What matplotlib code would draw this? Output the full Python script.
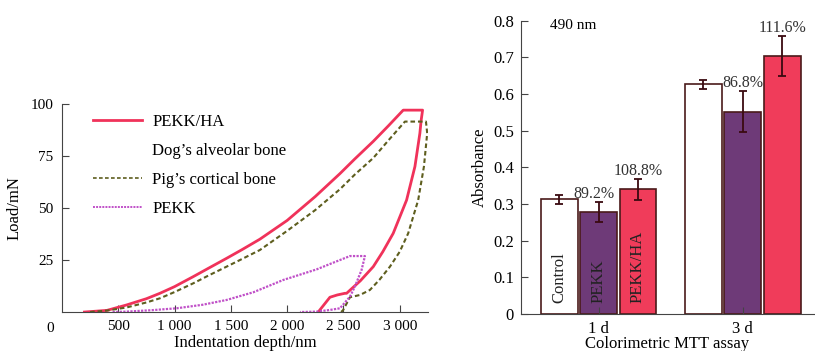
import numpy as np
import matplotlib.pyplot as plt
from matplotlib.lines import Line2D

plt.rcParams['font.family'] = ['Liberation Serif', 'DejaVu Serif']
plt.rcParams['font.size'] = 11

# Кривые наноиндентирования (нагрузка - разгрузка)
pekk_ha_depth = [200, 400, 574, 750, 870, 1000, 1166, 1300, 1462, 1600, 1758, 2000, 2250, 2469,
                 2600, 2765, 2900, 3031, 3203,
                 3190, 3179, 3135, 3061, 2942, 2850, 2765, 2650, 2528, 2513, 2445, 2380, 2276]
pekk_ha_load = [0, 0.8, 3.4, 6.4, 9.0, 12.2, 17, 21, 25.8, 30, 35, 44, 55.5, 66.5,
                73.5, 82, 89.5, 97, 97,
                92, 85.9, 69.9, 53.8, 37.8, 29, 21.8, 15, 9.0, 9.0, 8.2, 7.1, 0]

pig_depth = [250, 400, 574, 750, 870, 1000, 1166, 1300, 1462, 1600, 1758, 2000, 2250, 2469,
             2600, 2765, 2900, 3046, 3233,
             3244, 3215, 3164, 3075, 3000, 2913, 2820, 2735, 2647, 2558, 2498, 2480]
pig_load = [0, 0.7, 2.2, 4.6, 6.6, 9.6, 13.8, 17.5, 21.8, 25.5, 29.8, 39, 49, 59,
            66, 74, 82.5, 91.5, 91.5,
            85.9, 69.9, 53.8, 37.8, 29, 21.8, 15.5, 10.6, 8.2, 7.1, 1.0, 0]

pekk_depth = [450, 574, 800, 1018, 1250, 1462, 1700, 1965, 2262, 2400, 2558, 2691,
              2661, 2600, 2558, 2469, 2380, 2262, 2114]
pekk_load = [0, 0.2, 0.9, 1.8, 3.5, 5.8, 9.5, 15.4, 20.5, 23.5, 26.9, 26.9,
             20.2, 12, 7.4, 1.8, 1.0, 0.2, 0]

depth_ticks = [500, 1000, 1500, 2000, 2500, 3000]
depth_labels = ['500', '1 000', '1 500', '2 000', '2 500', '3 000']
load_ticks = [25, 50, 75, 100]

# MTT тест
days = ['1 d', '3 d']
groups = ['Control', 'PEKK', 'PEKK/HA']
absorb = [[0.313, 0.627], [0.279, 0.552], [0.340, 0.703]]
absorb_err = [[0.012, 0.012], [0.027, 0.056], [0.029, 0.055]]
percent = [[None, None], ['89.2%', '86.8%'], ['108.8%', '111.6%']]
bar_colors = ['#ffffff', '#6e3a78', '#f03c5a']

fig = plt.figure(figsize=(8.15, 3.51), dpi=100)

# Левый график
ax1 = fig.add_axes([0.076, 0.111, 0.449, 0.593])
ax1.plot(pekk_ha_depth, pekk_ha_load, color='#f0325a', lw=2.0)
ax1.plot(pig_depth, pig_load, color='#5e5e1e', lw=1.5, linestyle=(0, (2.2, 1.4)))
ax1.plot(pekk_depth, pekk_load, color='#c050c8', lw=1.6, linestyle=(0, (1, 0.6)))
ax1.set_xlim(0, 3250)
ax1.set_ylim(0, 100)
ax1.set_xticks(depth_ticks)
ax1.set_xticklabels(depth_labels)
ax1.set_yticks(load_ticks)
for s in ['top', 'right']:
    ax1.spines[s].set_visible(False)
for s in ['left', 'bottom']:
    ax1.spines[s].set_color('#444444')
ax1.tick_params(direction='in', length=5, color='#444444', labelsize=11, pad=6)
ax1.text(-0.032, -0.08, '0', transform=ax1.transAxes, fontsize=11, ha='center', va='center')
ax1.set_xlabel('Indentation depth/nm', fontsize=12, labelpad=1)
ax1.set_ylabel('Load/mN', fontsize=12, labelpad=6)

handles = [Line2D([], [], color='#f0325a', lw=2.0),
           Line2D([], [], color='none'),
           Line2D([], [], color='#5e5e1e', lw=1.2, linestyle=(0, (2.2, 1.4))),
           Line2D([], [], color='#c050c8', lw=1.4, linestyle=(0, (1, 0.6)))]
labels = ['PEKK/HA', 'Dog\u2019s alveolar bone', 'Pig\u2019s cortical bone', 'PEKK']
ax1.legend(handles, labels, loc='upper left', bbox_to_anchor=(0.085, 0.95), frameon=False,
           fontsize=12, handlelength=2.95, handletextpad=0.6, labelspacing=0.78,
           borderaxespad=0, borderpad=0)

# Правый график
ax2 = fig.add_axes([0.639, 0.1054, 0.36, 0.8356])
x = np.arange(len(days))
width = 0.256
step = 0.273
for i, g in enumerate(groups):
    pos = x + (i - 1) * step
    ax2.bar(pos, absorb[i], width, color=bar_colors[i], edgecolor='#4a1a1a', linewidth=1.2,
            yerr=absorb_err[i], capsize=3,
            error_kw=dict(ecolor='#3a0a10', elinewidth=1.3, capthick=1.3))
    ax2.text(pos[0], 0.03, g, rotation=90, ha='center', va='bottom', fontsize=12, color='#222222')
    for j in range(len(days)):
        if percent[i][j] is not None:
            ax2.text(pos[j] - 0.03 * (j == 0 and i == 1), absorb[i][j] + absorb_err[i][j] + 0.022,
                     percent[i][j], ha='center', va='center', fontsize=11.5, color='#333333')

ax2.set_xlim(-0.54, 1.495)
ax2.set_ylim(0, 0.8)
ax2.set_xticks(x)
ax2.set_xticklabels(days)
ax2.set_yticks(np.arange(0, 0.81, 0.1))
ax2.set_yticklabels(['0'] + [f'{v:.1f}' for v in np.arange(0.1, 0.81, 0.1)])
for s in ['top', 'right']:
    ax2.spines[s].set_visible(False)
for s in ['left', 'bottom']:
    ax2.spines[s].set_color('#444444')
ax2.tick_params(direction='in', length=5, color='#444444', labelsize=12, pad=5)
ax2.text(-0.34, 0.787, '490 nm', fontsize=11, ha='left', va='center')
ax2.set_xlabel('Colorimetric MTT assay', fontsize=12, labelpad=-1)
ax2.set_ylabel('Absorbance', fontsize=12, labelpad=4)

plt.savefig('out.png', dpi=100)
